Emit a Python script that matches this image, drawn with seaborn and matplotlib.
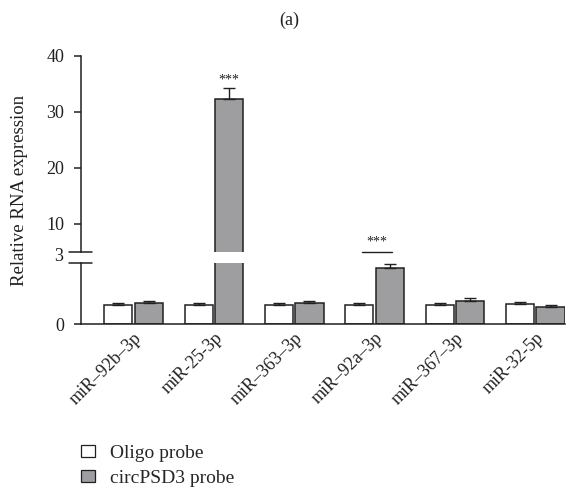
import matplotlib.pyplot as plt
import seaborn as sns
import pandas as pd
from matplotlib.lines import Line2D
from matplotlib.patches import Patch

# 数据
mirnas = ['miR–92b–3p', 'miR-25-3p', 'miR–363–3p', 'miR–92a–3p', 'miR–367–3p', 'miR-32-5p']
probes = ['Oligo probe', 'circPSD3 probe']
oligo_mean = [0.92, 0.92, 0.92, 0.92, 0.92, 0.97]
oligo_err = [0.10, 0.10, 0.10, 0.10, 0.10, 0.10]
circ_mean = [1.03, 32.3, 1.03, 2.76, 1.12, 0.82]
circ_err = [0.09, 1.9, 0.09, 0.18, 0.18, 0.10]

colors = {'Oligo probe': 'white', 'circPSD3 probe': '#9d9ea2'}
dark = '#231f20'

df = pd.DataFrame({
    'miRNA': mirnas * 2,
    'probe': [probes[0]] * len(mirnas) + [probes[1]] * len(mirnas),
    'value': oligo_mean + circ_mean,
    'err': oligo_err + circ_err,
})

sns.set_style("ticks")
plt.rcParams['font.family'] = ['Liberation Serif', 'DejaVu Serif']
plt.rcParams['axes.edgecolor'] = dark
plt.rcParams['axes.linewidth'] = 1.1
plt.rcParams['xtick.color'] = dark
plt.rcParams['ytick.color'] = dark

fig = plt.figure(figsize=(5.78, 4.91), dpi=100)
ax_top = fig.add_axes([0.140, 0.4868, 0.8375, 0.3992])
ax_bot = fig.add_axes([0.140, 0.3401, 0.8375, 0.1243])

for ax in (ax_top, ax_bot):
    sns.barplot(data=df, x='miRNA', y='value', hue='probe', order=mirnas,
                hue_order=probes, palette=colors, edgecolor=dark, linewidth=1.1,
                width=0.76, gap=0.08, errorbar=None, legend=False, ax=ax)
    # 误差线（只画上半部分）
    for cont, probe in zip(ax.containers, probes):
        sub = df[df['probe'] == probe].set_index('miRNA').loc[mirnas]
        xs = [p.get_x() + p.get_width() / 2 for p in cont.patches]
        hs = [p.get_height() for p in cont.patches]
        ax.errorbar(xs, hs, yerr=[[0] * len(xs), list(sub['err'])], fmt='none',
                    ecolor=dark, elinewidth=1.0, capsize=4, capthick=1.0)
    ax.set_xlim(-0.654, 5.37)
    ax.set_xlabel('')
    ax.set_ylabel('')
    sns.despine(ax=ax)
    ax.tick_params(axis='y', labelsize=13, length=5, width=1.1, pad=7,
                   direction='out')

ax_top.set_ylim(5, 40)
ax_top.set_yticks([10, 20, 30, 40])
ax_top.spines['bottom'].set_visible(False)
ax_top.tick_params(axis='x', bottom=False, labelbottom=False)

ax_bot.set_ylim(0, 3)
ax_bot.set_yticks([0])
ax_bot.tick_params(axis='x', length=0, labelsize=13, pad=4)
for lab in ax_bot.get_xticklabels():
    lab.set_rotation(45)
    lab.set_ha('right')
    lab.set_va('top')
    lab.set_rotation_mode('anchor')
ax_bot.annotate('3', xy=(0, 1), xycoords='axes fraction', xytext=(-18, 6),
                textcoords='offset pixels', ha='right', va='center', fontsize=13,
                color=dark)

# 断轴标记
for yy in (0.4868, 0.4644):
    fig.add_artist(Line2D([0.119, 0.159], [yy, yy], color=dark, lw=1.1))

# 显著性标记
ax_top.text(1.19, 34.6, '***', ha='center', va='bottom', fontsize=10, color=dark)
ax_top.plot([2.84, 3.22], [5.0, 5.0], color=dark, lw=1.0, clip_on=False)
ax_top.text(3.03, 5.6, '***', ha='center', va='bottom', fontsize=10, color=dark)

fig.text(0.5, 0.959, '(a)', ha='center', va='center', fontsize=13, color=dark)
fig.text(0.033, 0.613, 'Relative RNA expression', rotation=90, ha='center',
         va='center', fontsize=13.5, color=dark)

handles = [Patch(facecolor=colors[p], edgecolor=dark, linewidth=0.9) for p in probes]
fig.legend(handles, probes, loc='upper left', bbox_to_anchor=(0.140, 0.094),
           frameon=False, fontsize=14, handlelength=0.72, handleheight=0.57,
           handletextpad=0.77, labelspacing=0.42, borderaxespad=0, borderpad=0)

fig.savefig('out.png', dpi=100)
